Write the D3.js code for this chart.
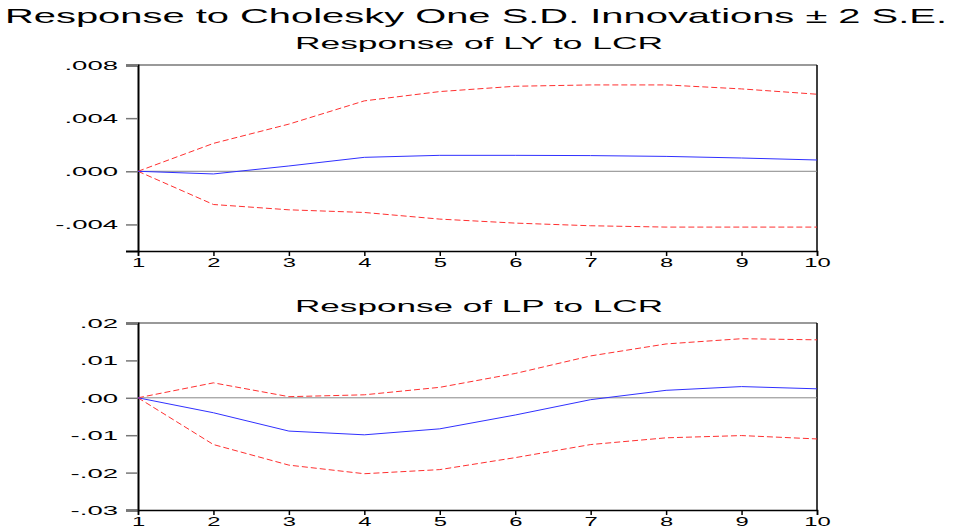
<!DOCTYPE html>
<html>
<head>
<meta charset="utf-8">
<script src="https://d3js.org/d3.v7.min.js"></script>
<style>
  body { margin: 0; background: #fff; }
  text { font-family: "Liberation Sans", Arial, sans-serif; fill: #000; }
</style>
</head>
<body>
<div id="chart"></div>
<script>
// periods and impulse responses
var periods = [1, 2, 3, 4, 5, 6, 7, 8, 9, 10];

var lyResp  = [0, -0.0002, 0.0004, 0.00105, 0.0012, 0.0012, 0.00118, 0.00112, 0.001, 0.00085];
var lyUpper = [0, 0.0021, 0.00355, 0.0053, 0.006, 0.0064, 0.0065, 0.0065, 0.0062, 0.0058];
var lyLower = [0, -0.0025, -0.0029, -0.0031, -0.0036, -0.0039, -0.0041, -0.0042, -0.0042, -0.0042];

var lpResp  = [0, -0.004, -0.0089, -0.0099, -0.0083, -0.0046, -0.0005, 0.002, 0.003, 0.0024];
var lpUpper = [0, 0.004, 0.0003, 0.0008, 0.0028, 0.0065, 0.0112, 0.0144, 0.0158, 0.0155];
var lpLower = [0, -0.0125, -0.018, -0.0203, -0.0192, -0.016, -0.0125, -0.0107, -0.0101, -0.011];

var lyTicks = [-0.004, 0, 0.004, 0.008];
var lpTicks = [-0.03, -0.02, -0.01, 0, 0.01, 0.02];

var width = 962,
    height = 529;

var svg = d3.select("#chart")
    .append("svg")
    .attr("width", width)
    .attr("height", height);

// EViews text looks stretched sideways, so widen each label
function stretch(sel, k) {
    sel.each(function() {
        var len = this.getComputedTextLength();
        d3.select(this)
            .attr("textLength", len * k)
            .attr("lengthAdjust", "spacingAndGlyphs");
    });
}

svg.append("text")
    .attr("x", 476).attr("y", 23)
    .attr("text-anchor", "middle")
    .style("font-size", "21px")
    .text("Response to Cholesky One S.D. Innovations \u00b1 2 S.E.")
    .attr("textLength", 942)
    .attr("lengthAdjust", "spacingAndGlyphs");

function panel(title, titleY, top, bottom, yDomain, ticks, decimals, resp, upper, lower) {
    var left = 138, right = 817;

    var x = d3.scaleLinear().domain([1, 10]).range([left, right]);
    var y = d3.scaleLinear().domain(yDomain).range([bottom, top]);

    svg.append("text")
        .attr("x", 479).attr("y", titleY)
        .attr("text-anchor", "middle")
        .style("font-size", "16.5px")
        .text(title)
        .attr("textLength", 368)
        .attr("lengthAdjust", "spacingAndGlyphs");

    // frame: gray top, black right
    svg.append("line")
        .attr("x1", left).attr("x2", right)
        .attr("y1", top).attr("y2", top)
        .style("stroke", "#777").style("stroke-width", 1.5);
    svg.append("line")
        .attr("x1", right).attr("x2", right)
        .attr("y1", top).attr("y2", bottom)
        .style("stroke", "#000").style("stroke-width", 1.5);

    // zero line
    svg.append("line")
        .attr("x1", left).attr("x2", right)
        .attr("y1", y(0)).attr("y2", y(0))
        .style("stroke", "#888").style("stroke-width", 1);

    var fmt = function(d) {
        var s = Math.abs(d).toFixed(decimals).replace(/^0/, "");
        return (d < 0 ? "-" : "") + s;
    };

    var yAxis = svg.append("g")
        .attr("transform", "translate(" + left + ",0)")
        .call(d3.axisLeft(y).tickValues(ticks).tickFormat(fmt).tickSize(12).tickPadding(8));
    yAxis.select(".domain").style("stroke", "#000").style("stroke-width", 2);
    yAxis.selectAll(".tick line").style("stroke", "#777").style("stroke-width", 1.5);
    yAxis.selectAll("text")
        .style("font-size", "12.5px")
        .attr("dy", "0.36em")
        .call(stretch, 2.2);

    var xAxis = svg.append("g")
        .attr("transform", "translate(0," + bottom + ")")
        .call(d3.axisBottom(x).tickValues(periods).tickFormat(d3.format("d")).tickSize(5).tickPadding(2));
    xAxis.select(".domain").style("stroke", "#000").style("stroke-width", 1.5);
    xAxis.selectAll(".tick line").style("stroke", "#000").style("stroke-width", 1.5);
    xAxis.selectAll("text")
        .style("font-size", "12.5px")
        .call(stretch, 1.9);

    var line = d3.line()
        .x(function(d, i) { return x(periods[i]); })
        .y(function(d) { return y(d); });

    [upper, lower].forEach(function(band) {
        svg.append("path")
            .datum(band)
            .attr("d", line)
            .style("fill", "none")
            .style("stroke", "#ff3030")
            .style("stroke-width", 1)
            .style("stroke-dasharray", "6,3");
    });

    svg.append("path")
        .datum(resp)
        .attr("d", line)
        .style("fill", "none")
        .style("stroke", "#3030ff")
        .style("stroke-width", 1);
}

panel("Response of LY to LCR", 49, 65, 251, [-0.006, 0.008], lyTicks, 3, lyResp, lyUpper, lyLower);
panel("Response of LP to LCR", 312, 323, 510, [-0.03, 0.02], lpTicks, 2, lpResp, lpUpper, lpLower);
</script>
</body>
</html>
